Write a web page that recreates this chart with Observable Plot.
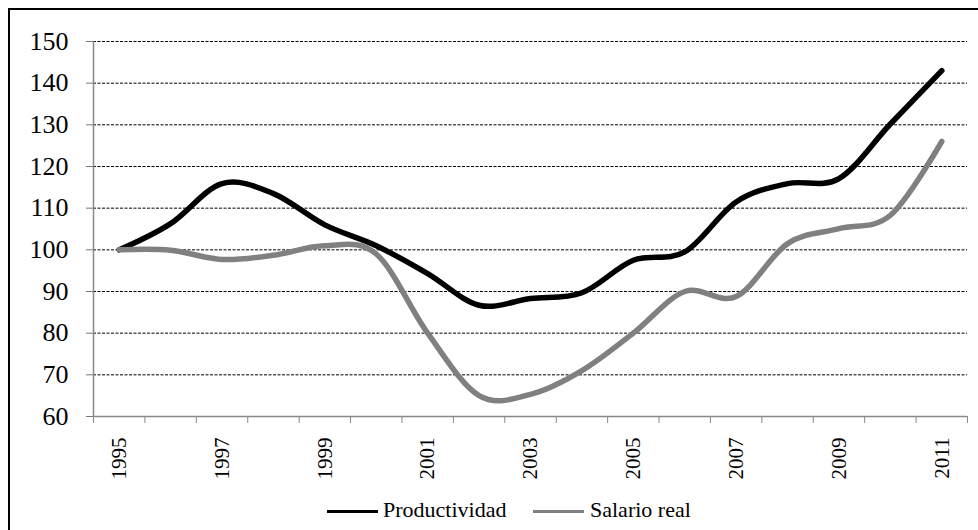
<!DOCTYPE html>
<html><head><meta charset="utf-8">
<script src="https://cdn.jsdelivr.net/npm/d3@7"></script>
<script src="https://cdn.jsdelivr.net/npm/@observablehq/plot@0.6"></script>
<style>
html,body{margin:0;padding:0;background:#fff;}
body{width:978px;height:530px;overflow:hidden;position:relative;font-family:"Liberation Serif","Times New Roman",serif;}
#frame{position:absolute;left:8px;top:8px;width:1000px;height:600px;border-left:2.5px solid #000;border-top:2.5px solid #000;box-sizing:border-box;}
#chart{position:absolute;left:0;top:0;}
.leg{position:absolute;top:498px;height:24px;line-height:24px;font-size:22px;color:#000;white-space:nowrap;}
.sw{position:absolute;height:2.5px;top:12px;}
</style>
</head><body>
<div id="frame"></div>
<div id="chart"></div>
<div id="legend"></div>
<script>
const years = [1995,1996,1997,1998,1999,2000,2001,2002,2003,2004,2005,2006,2007,2008,2009,2010,2011];
const productividad = [100,106.3,115.9,113.5,106,101,94.3,86.7,88.3,89.7,97.5,99.5,111.5,115.9,117.1,130.2,143];
const salarioReal = [100,99.9,97.7,98.7,101,99,80,65,65.3,71,80,90,88.8,101.5,105.1,108.3,126];
const seriesNames = ["Productividad","Salario real"];
const seriesColors = ["#000000","#808080"];
const yTicks = [60,70,80,90,100,110,120,130,140,150];
const xLabelYears = [1995,1997,1999,2001,2003,2005,2007,2009,2011];

const seriesValues = [productividad, salarioReal];
const data = seriesNames.flatMap((name, s) => years.map((yr, i) => ({year: yr, value: seriesValues[s][i], serie: name})));
const bounds = years.map(y => y - 0.5).concat([years[years.length - 1] + 0.5]);
const serif = "'Liberation Serif', 'Times New Roman', serif";

const chart = Plot.plot({
  width: 978, height: 495,
  marginLeft: 93, marginRight: 11, marginTop: 41, marginBottom: 79,
  style: {fontFamily: serif, background: "transparent", overflow: "visible", color: "#000"},
  x: {type: "linear", domain: [bounds[0], bounds[bounds.length - 1]]},
  y: {domain: [yTicks[0], yTicks[yTicks.length - 1]]},
  color: {domain: seriesNames, range: seriesColors},
  marks: [
    Plot.ruleY(yTicks.slice(1), {stroke: "#000", strokeWidth: 1, strokeDasharray: "3,1.5"}),
    Plot.axisY({ticks: yTicks, tickSize: 7, tickPadding: 18, fontSize: 26, fontFamily: serif, stroke: "#777", fill: "#000", label: null, tickFormat: d => String(d)}),
    Plot.ruleY([yTicks[0]], {stroke: "#888", strokeWidth: 1.5}),
    Plot.ruleX([bounds[0]], {stroke: "#888", strokeWidth: 1.5}),
    Plot.axisX({ticks: bounds, tickSize: 7, tickFormat: () => "", stroke: "#888", label: null}),
    Plot.axisX({ticks: xLabelYears, tickSize: 0, tickPadding: 21, tickRotate: -90, fontSize: 21, fontFamily: serif, fill: "#000", label: null, tickFormat: d => String(d)}),
    Plot.line(data, {x: "year", y: "value", z: "serie", stroke: "serie", strokeWidth: 5.5, curve: "cardinal", strokeLinecap: "round", strokeLinejoin: "round"})
  ]
});
document.getElementById("chart").appendChild(chart);

const legend = document.getElementById("legend");
const legPos = [{line: 327, text: 383}, {line: 533, text: 590}];
seriesNames.forEach((name, i) => {
  const sw = document.createElement("div");
  sw.className = "leg";
  sw.style.left = legPos[i].line + "px";
  sw.style.width = "51px";
  sw.innerHTML = `<div class="sw" style="left:0;width:51px;background:${seriesColors[i]}"></div>`;
  legend.appendChild(sw);
  const t = document.createElement("div");
  t.className = "leg";
  t.style.left = legPos[i].text + "px";
  t.textContent = name;
  legend.appendChild(t);
});
</script>
</body></html>
